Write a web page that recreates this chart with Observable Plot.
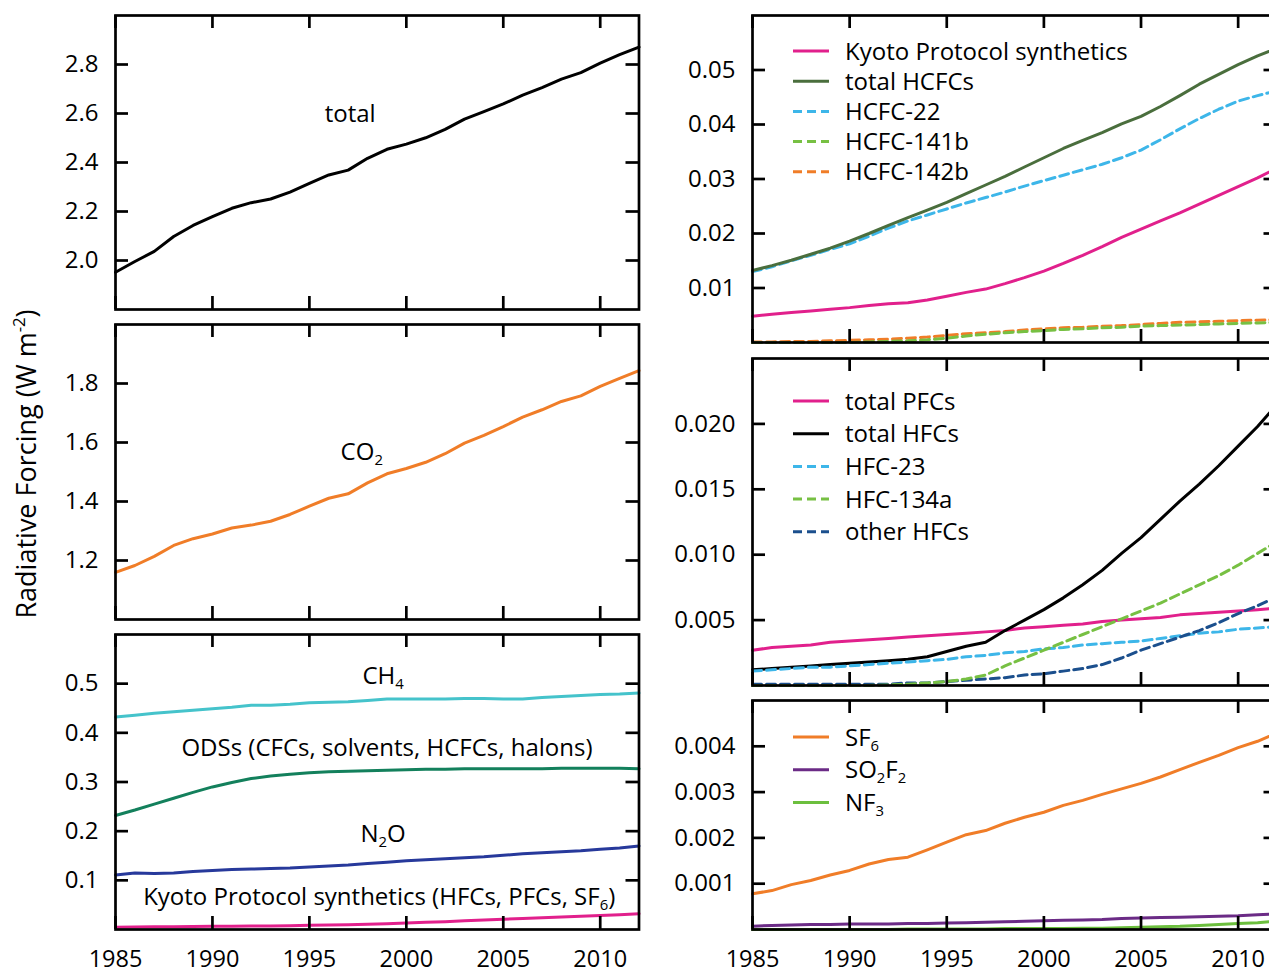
<!DOCTYPE html>
<html><head><meta charset="utf-8">
<script src="https://cdn.jsdelivr.net/npm/d3@7"></script>
<script src="https://cdn.jsdelivr.net/npm/@observablehq/plot@0.6"></script>
<style>
body{margin:0;background:#fff;}
#chart{position:relative;width:1269px;height:974px;overflow:hidden;font-family:"Open Sans",sans-serif;}
#chart svg{position:absolute;top:0;}
</style></head><body><div id="chart"></div>
<script>
// ---------- data ----------
const years = [1985,1986,1987,1988,1989,1990,1991,1992,1993,1994,1995,1996,1997,1998,1999,2000,2001,2002,2003,2004,2005,2006,2007,2008,2009,2010,2011,2012];

const total = [1.952,1.996,2.037,2.098,2.143,2.179,2.213,2.236,2.251,2.279,2.315,2.349,2.369,2.417,2.454,2.475,2.501,2.535,2.577,2.608,2.639,2.675,2.706,2.740,2.767,2.806,2.840,2.871];
const co2 = [1.160,1.183,1.214,1.251,1.274,1.290,1.310,1.320,1.333,1.356,1.384,1.411,1.426,1.463,1.494,1.512,1.533,1.562,1.598,1.624,1.654,1.686,1.711,1.739,1.758,1.790,1.817,1.844];
const ch4 = [.432,.436,.440,.443,.446,.449,.452,.456,.456,.458,.461,.462,.463,.466,.469,.469,.469,.469,.470,.470,.469,.469,.472,.474,.476,.478,.479,.481];
const ods = [.232,.243,.255,.267,.279,.290,.299,.307,.312,.316,.319,.321,.322,.323,.324,.325,.326,.326,.327,.327,.327,.327,.327,.328,.328,.328,.328,.327];
const n2o = [.111,.115,.114,.115,.118,.120,.122,.123,.124,.125,.127,.129,.131,.134,.137,.140,.142,.144,.146,.148,.151,.154,.156,.158,.160,.163,.166,.170];
const kyoto = [.0048,.0052,.0055,.0058,.0061,.0064,.0068,.0071,.0073,.0078,.0085,.0092,.0098,.0108,.0119,.0131,.0145,.0160,.0176,.0193,.0208,.0223,.0238,.0254,.0270,.0286,.0302,.0320];

const hcfcTotal = [.0132,.0141,.0151,.0162,.0173,.0186,.0200,.0215,.0229,.0243,.0257,.0273,.0289,.0305,.0322,.0339,.0356,.0371,.0385,.0401,.0415,.0433,.0453,.0474,.0492,.0510,.0526,.0540];
const hcfc22 = [.0130,.0139,.0150,.0160,.0171,.0181,.0195,.0210,.0223,.0234,.0245,.0256,.0266,.0276,.0287,.0297,.0307,.0317,.0327,.0339,.0353,.0372,.0392,.0411,.0428,.0443,.0453,.0462];
const hcfc141b = [0,0,0,0,0,0,.0001,.0002,.0003,.0005,.0008,.0012,.0015,.0018,.0020,.0022,.0024,.0025,.0027,.0028,.0030,.0031,.0032,.0033,.0034,.0035,.0036,.0037];
const hcfc142b = [.0001,.0001,.0002,.0002,.0003,.0004,.0005,.0006,.0008,.0010,.0013,.0016,.0018,.0020,.0023,.0025,.0027,.0028,.0030,.0031,.0033,.0035,.0037,.0038,.0039,.0040,.0041,.0042];

const pfcTotal = [.0027,.0029,.0030,.0031,.0033,.0034,.0035,.0036,.0037,.0038,.0039,.0040,.0041,.0042,.0044,.0045,.0046,.0047,.0049,.0050,.0051,.0052,.0054,.0055,.0056,.0057,.0058,.0059];
const hfcTotal = [.0012,.0013,.0014,.0015,.0016,.0017,.0018,.0019,.0020,.0022,.0026,.0030,.0033,.0042,.0050,.0058,.0067,.0077,.0088,.0101,.0113,.0127,.0141,.0154,.0168,.0183,.0198,.0215];
const hfc23 = [.0011,.0012,.0013,.0014,.0014,.0015,.0016,.0017,.0018,.0019,.0020,.0022,.0023,.0025,.0026,.0028,.0029,.0031,.0032,.0033,.0034,.0036,.0038,.0040,.0041,.0043,.0044,.0045];
const hfc134a = [0,0,0,0,0,0,0,.00005,.0001,.0002,.0003,.0005,.0008,.0015,.0021,.0027,.0033,.0039,.0045,.0051,.0057,.0063,.0070,.0077,.0084,.0092,.0101,.0110];
const hfcOther = [.0001,.0001,.0001,.0001,.0001,.0001,.0001,.0001,.0002,.0002,.0003,.0004,.0005,.0006,.0008,.0009,.0011,.0013,.0016,.0021,.0027,.0032,.0037,.0042,.0048,.0055,.0061,.0068];

const sf6 = [.00078,.00085,.00098,.00107,.00119,.00129,.00143,.00153,.00158,.00174,.00191,.00207,.00216,.00232,.00245,.00256,.00271,.00282,.00295,.00307,.00319,.00333,.00349,.00365,.00380,.00397,.00411,.00429];
const so2f2 = [.00007,.00009,.00010,.00011,.00011,.00012,.00012,.00012,.00013,.00013,.00014,.00015,.00016,.00017,.00018,.00019,.00020,.00021,.00022,.00024,.00025,.00026,.00027,.00028,.00029,.00030,.00032,.00034];
const nf3 = [0,0,0,0,0,0,0,0,.00001,.00001,.00001,.00001,.00001,.00002,.00002,.00002,.00002,.00003,.00003,.00004,.00005,.00006,.00007,.00009,.00011,.00013,.00015,.00018];

const xTicks = [1985,1990,1995,2000,2005,2010];
const ticksTotal = [2.0,2.2,2.4,2.6,2.8];
const ticksCO2 = [1.2,1.4,1.6,1.8];
const ticksOther = [0.1,0.2,0.3,0.4,0.5];
const ticksHCFC = [0.01,0.02,0.03,0.04,0.05];
const ticksHFC = [0.005,0.010,0.015,0.020];
const ticksSF6 = [0.001,0.002,0.003,0.004];

const labelsTotal = [{x:1997.1, y:2.597, text:"total"}];
const labelsCO2 = [{x:1997.7, y:1.568, text:"CO_2"}];
const labelsOther = [
  {x:1998.8, y:0.515, text:"CH_4"},
  {x:1999.0, y:0.368, text:"ODSs (CFCs, solvents, HCFCs, halons)"},
  {x:1998.8, y:0.193, text:"N_2O"},
  {x:1998.6, y:0.065, text:"Kyoto Protocol synthetics (HFCs, PFCs, SF_6)"}
];

const C = {
  black:"#000000", orange:"#f07d28", cyan:"#45c3cb", odsGreen:"#13805c", navy:"#27399b",
  magenta:"#e1208c", olive:"#4a6e3d", lightBlue:"#3db6e9", green:"#77c043", darkBlue:"#1b4f8d",
  purple:"#6b2b86", nf3Green:"#6cbf3e"
};

const seriesTotal = [{name:"total", values:total, color:C.black}];
const seriesCO2 = [{name:"CO2", values:co2, color:C.orange}];
const seriesOther = [
  {name:"CH4", values:ch4, color:C.cyan},
  {name:"ODSs", values:ods, color:C.odsGreen},
  {name:"N2O", values:n2o, color:C.navy},
  {name:"Kyoto", values:kyoto, color:C.magenta}
];
const seriesHCFC = [
  {name:"HCFC-142b", values:hcfc142b, color:C.orange, dash:true},
  {name:"HCFC-141b", values:hcfc141b, color:C.green, dash:true},
  {name:"HCFC-22", values:hcfc22, color:C.lightBlue, dash:true},
  {name:"total HCFCs", values:hcfcTotal, color:C.olive},
  {name:"Kyoto Protocol synthetics", values:kyoto, color:C.magenta}
];
const seriesHFC = [
  {name:"total PFCs", values:pfcTotal, color:C.magenta},
  {name:"total HFCs", values:hfcTotal, color:C.black},
  {name:"HFC-23", values:hfc23, color:C.lightBlue, dash:true},
  {name:"other HFCs", values:hfcOther, color:C.darkBlue, dash:true},
  {name:"HFC-134a", values:hfc134a, color:C.green, dash:true}
];
const seriesSF6 = [
  {name:"SF6", values:sf6, color:C.orange},
  {name:"SO2F2", values:so2f2, color:C.purple},
  {name:"NF3", values:nf3, color:C.nf3Green}
];

const legendHCFC = [
  {label:"Kyoto Protocol synthetics", color:C.magenta},
  {label:"total HCFCs", color:C.olive},
  {label:"HCFC-22", color:C.lightBlue, dash:true},
  {label:"HCFC-141b", color:C.green, dash:true},
  {label:"HCFC-142b", color:C.orange, dash:true}
];
const legendHFC = [
  {label:"total PFCs", color:C.magenta},
  {label:"total HFCs", color:C.black},
  {label:"HFC-23", color:C.lightBlue, dash:true},
  {label:"HFC-134a", color:C.green, dash:true},
  {label:"other HFCs", color:C.darkBlue, dash:true}
];
const legendSF6 = [
  {label:"SF_6", color:C.orange},
  {label:"SO_2F_2", color:C.purple},
  {label:"NF_3", color:C.nf3Green}
];

// ---------- drawing ----------
const FONT = '"Open Sans", sans-serif';
const FS = 24;
const H = 974;
const TICK = 13, TW = 2.7, LW = 3, DASH = "9,5";
const chart = document.getElementById("chart");

function rich(sel, str) {
  sel.text(null);
  const parts = str.split(/_(\d)/);
  let shifted = false;
  parts.forEach((p, i) => {
    if (p === "") return;
    const t = sel.append("tspan").text(p);
    if (i % 2 === 1) { t.attr("font-size", "0.62em"); if (!shifted) { t.attr("dy", 5); shifted = true; } }
    else if (shifted) { t.attr("dy", -5); shifted = false; }
  });
}

function panel(o) {
  const innerW = o.width - o.marginLeft - o.marginRight;
  const innerH = o.bottom - o.top;
  const marks = [];
  o.series.forEach(s => marks.push(Plot.line(years.map((year, i) => ({year, value: s.values[i]})), {
    x: "year", y: "value", stroke: s.color, strokeWidth: LW, strokeDasharray: s.dash ? DASH : null
  })));
  marks.push(Plot.frame({stroke: "black", strokeWidth: TW}));
  marks.push(Plot.tickX(xTicks, {x: d => d, insetTop: innerH - TICK, stroke: "black", strokeWidth: TW}));
  marks.push(Plot.tickX(xTicks, {x: d => d, insetBottom: innerH - TICK, stroke: "black", strokeWidth: TW}));
  marks.push(Plot.tickY(o.yTicks, {y: d => d, insetRight: innerW - TICK, stroke: "black", strokeWidth: TW}));
  marks.push(Plot.tickY(o.yTicks, {y: d => d, insetLeft: innerW - TICK, stroke: "black", strokeWidth: TW}));
  marks.push(Plot.axisY({ticks: o.yTicks, tickFormat: d3.format(o.yFormat), tickSize: 0, tickPadding: 17, label: null, fontSize: FS}));
  if (o.showX) marks.push(Plot.axisX({ticks: xTicks, tickFormat: d => String(d), tickSize: 0, tickPadding: 21, label: null, fontSize: 23.5}));
  if (o.labels) marks.push(Plot.text(o.labels, {x: "x", y: "y", text: "text", fontSize: FS, fill: "black"}));
  const svg = Plot.plot({
    width: o.width, height: H,
    marginLeft: o.marginLeft, marginRight: o.marginRight, marginTop: o.top, marginBottom: H - o.bottom,
    x: {domain: [1985, 2012], ...(o.showX ? {} : {axis: null})},
    y: {domain: o.yDomain},
    style: {background: "none", fontFamily: FONT, fontSize: FS + "px", maxWidth: "none", color: "black"},
    marks
  });
  svg.style.left = o.left + "px";
  chart.appendChild(svg);
  d3.select(svg).selectAll("text").each(function() {
    const s = this.textContent;
    if (/_\d/.test(s)) rich(d3.select(this), s);
  });
  if (o.legend) {
    const g = d3.select(svg).append("g").attr("text-anchor", "start");
    o.legend.forEach((e, i) => {
      const y = o.legendTop + i * o.legendStep;
      g.append("line").attr("x1", 153).attr("x2", 189).attr("y1", y).attr("y2", y)
        .attr("stroke", e.color).attr("stroke-width", LW).attr("stroke-dasharray", e.dash ? DASH : null);
      const t = g.append("text").attr("x", 205).attr("y", y).attr("dy", "0.36em")
        .attr("text-anchor", "start").attr("font-size", FS).attr("fill", "black");
      rich(t, e.label);
    });
  }
  return svg;
}

const L = {left: 0, width: 660, marginLeft: 115, marginRight: 21.5};
const R = {left: 640, width: 640, marginLeft: 112, marginRight: 3.5};

panel({...L, top: 15, bottom: 309, yDomain: [1.8, 3.0], yTicks: ticksTotal, yFormat: ".1f", series: seriesTotal, labels: labelsTotal});
panel({...L, top: 324, bottom: 619, yDomain: [1.0, 2.0], yTicks: ticksCO2, yFormat: ".1f", series: seriesCO2, labels: labelsCO2});
panel({...L, top: 634, bottom: 929, yDomain: [0, 0.6], yTicks: ticksOther, yFormat: ".1f", series: seriesOther, labels: labelsOther, showX: true});
panel({...R, top: 15, bottom: 342, yDomain: [0, 0.06], yTicks: ticksHCFC, yFormat: ".2f", series: seriesHCFC, legend: legendHCFC, legendTop: 51, legendStep: 30.2});
panel({...R, top: 358, bottom: 685, yDomain: [0, 0.025], yTicks: ticksHFC, yFormat: ".3f", series: seriesHFC, legend: legendHFC, legendTop: 401, legendStep: 32.7});
panel({...R, top: 700, bottom: 929, yDomain: [0, 0.005], yTicks: ticksSF6, yFormat: ".3f", series: seriesSF6, legend: legendSF6, legendTop: 737, legendStep: 32.7, showX: true});

// y-axis title
const ts = d3.select(chart).append("svg").attr("width", 60).attr("height", H).style("left", "0px");
const tt = ts.append("text").attr("transform", "translate(36,464) rotate(-90)").attr("text-anchor", "middle")
  .attr("font-family", FONT).attr("font-size", 27).attr("fill", "black");
tt.append("tspan").text("Radiative Forcing (W m");
tt.append("tspan").attr("font-size", "0.62em").attr("dy", -11).text("-2");
tt.append("tspan").attr("dy", 11).text(")");
</script></body></html>
